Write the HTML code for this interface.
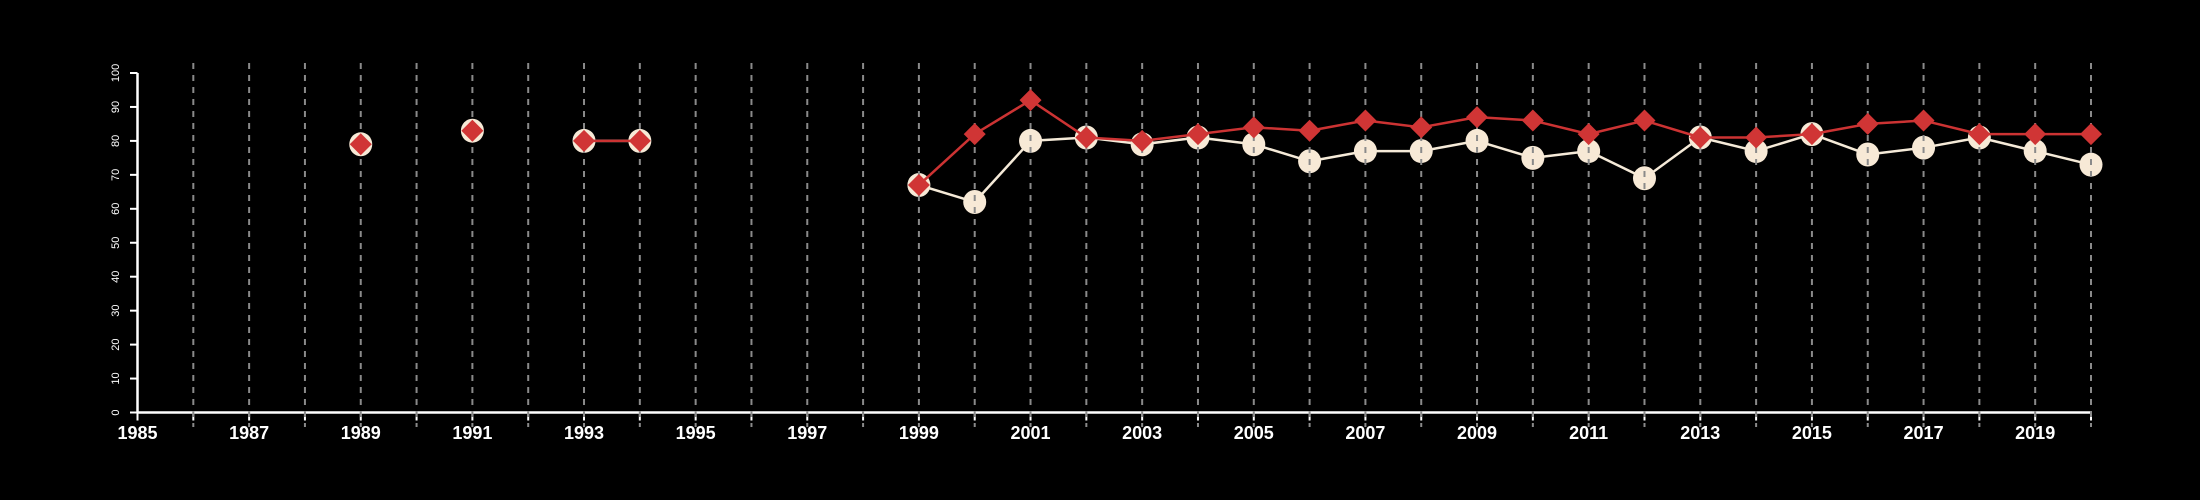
<!DOCTYPE html>
<html><head><meta charset="utf-8"><style>html,body{margin:0;background:#000;}svg{display:block;font-family:"Liberation Sans",sans-serif;}</style></head>
<body>
<svg id="chart" width="2200" height="500" viewBox="0 0 2200 500" xmlns="http://www.w3.org/2000/svg">
<rect width="2200" height="500" fill="#000"/>
</svg>
<script>
const years = [1989,1991,1993,1994,1999,2000,2001,2002,2003,2004,2005,2006,2007,2008,2009,2010,2011,2012,2013,2014,2015,2016,2017,2018,2019,2020];
const redValues = [79,83,80,80,67,82,92,81,80,82,84,83,86,84,87,86,82,86,81,81,82,85,86,82,82,82];
const creamValues = [79,83,80,80,67,62,80,81,79,81,79,74,77,77,80,75,77,69,81,77,82,76,78,81,77,73];
const xTickLabels = [1985,1987,1989,1991,1993,1995,1997,1999,2001,2003,2005,2007,2009,2011,2013,2015,2017,2019];
const yTickLabels = [0,10,20,30,40,50,60,70,80,90,100];

const NS="http://www.w3.org/2000/svg";
const svg=document.getElementById('chart');
const x=yr=>137.5+(yr-1985)*(2091-137.5)/35;
const y=v=>412.5-v*3.395;
function mk(tag,attrs,parent){const e=document.createElementNS(NS,tag);for(const k in attrs)e.setAttribute(k,attrs[k]);(parent||svg).appendChild(e);return e;}
const g=mk('g',{});



const yAxis=mk('line',{x1:137.5,y1:y(0),x2:137.5,y2:y(100),stroke:'#fff','stroke-width':2.5},g);


const xAxis=mk('line',{x1:137.5,y1:y(0),x2:2091,y2:y(0),stroke:'#fff','stroke-width':2.5},g);


yTickLabels.forEach(v=>{
  const t=mk('line',{x1:130,y1:y(v),x2:137.5,y2:y(v),stroke:'#fff','stroke-width':2},g);
  
  
  const l=mk('text',{x:0,y:0,fill:'#fff','font-size':11,'text-anchor':'middle',transform:`translate(119,${y(v)}) rotate(-90)`},g);
  l.textContent=v;
  
  
});
for(let yr=1985;yr<=2020;yr++){
  const t=mk('line',{x1:x(yr),y1:y(0),x2:x(yr),y2:y(0)+8,stroke:'#fff','stroke-width':2},g);
  
  
}
xTickLabels.forEach(yr=>{
  const l=mk('text',{x:x(yr),y:439,fill:'#fff','font-size':18,'font-weight':'bold','text-anchor':'middle'},g);
  l.textContent=yr;
  
  
});

function segs(vals,color,w,name){
  for(let i=1;i<years.length;i++){
    if(years[i]-years[i-1]===1){
      const s=mk('line',{x1:x(years[i-1]),y1:y(vals[i-1]),x2:x(years[i]),y2:y(vals[i]),stroke:color,'stroke-width':w},g);
      
      
    }
  }
}
segs(creamValues,'#f5ead8',2.5,'cream-series-line');
years.forEach((yr,i)=>{
  const c=mk('ellipse',{cx:x(yr),cy:y(creamValues[i]),rx:11.5,ry:12,fill:'#f7e9d6'},g);
  
  
});
for(let yr=1986;yr<=2020;yr++){
  const d=mk('line',{x1:x(yr),y1:63,x2:x(yr),y2:427,stroke:'#8a8a8a','stroke-width':2,'stroke-dasharray':'6 6'},g);
  
  
}
segs(redValues,'#cc3333',2.5,'red-series-line');
years.forEach((yr,i)=>{
  const cx=x(yr),cy=y(redValues[i]),r=11;
  const p=mk('polygon',{points:`${cx},${cy-r} ${cx+r},${cy} ${cx},${cy+r} ${cx-r},${cy}`,fill:'#d03535'},g);
  
  
});
</script>
</body></html>
